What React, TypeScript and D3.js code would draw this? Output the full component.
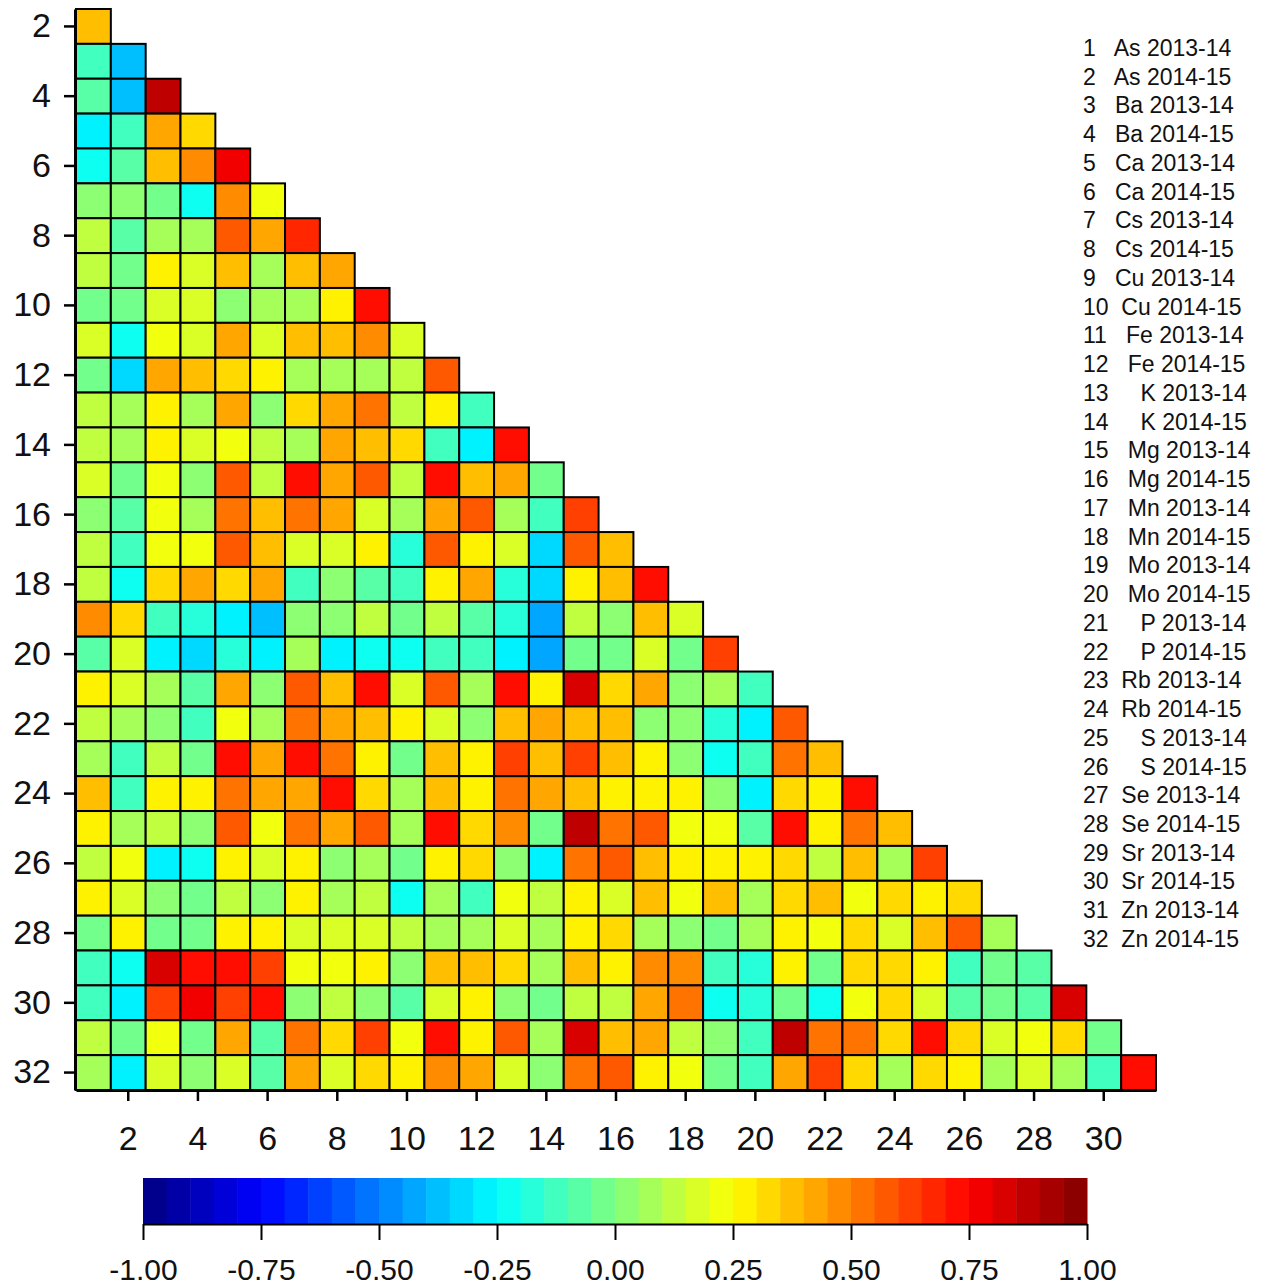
import { useEffect, useRef } from "react";
import * as d3 from "d3";

// variables 1..32 (only the lower triangle is drawn)
const legendLabels = [
  "1   As 2013-14",
  "2   As 2014-15",
  "3   Ba 2013-14",
  "4   Ba 2014-15",
  "5   Ca 2013-14",
  "6   Ca 2014-15",
  "7   Cs 2013-14",
  "8   Cs 2014-15",
  "9   Cu 2013-14",
  "10  Cu 2014-15",
  "11   Fe 2013-14",
  "12   Fe 2014-15",
  "13     K 2013-14",
  "14     K 2014-15",
  "15   Mg 2013-14",
  "16   Mg 2014-15",
  "17   Mn 2013-14",
  "18   Mn 2014-15",
  "19   Mo 2013-14",
  "20   Mo 2014-15",
  "21     P 2013-14",
  "22     P 2014-15",
  "23  Rb 2013-14",
  "24  Rb 2014-15",
  "25     S 2013-14",
  "26     S 2014-15",
  "27  Se 2013-14",
  "28  Se 2014-15",
  "29  Sr 2013-14",
  "30  Sr 2014-15",
  "31  Zn 2013-14",
  "32  Zn 2014-15",
];

const columnIds = d3.range(1, 32);
const rowIds = d3.range(2, 33);
const yTicks = [2, 4, 6, 8, 10, 12, 14, 16, 18, 20, 22, 24, 26, 28, 30, 32];
const xTicks = [2, 4, 6, 8, 10, 12, 14, 16, 18, 20, 22, 24, 26, 28, 30];
const colorTicks = [-1, -0.75, -0.5, -0.25, 0, 0.25, 0.5, 0.75, 1];

// correlations, row r (2..32) holds columns 1..r-1
const corrRows: number[][] = [
  [0.38],
  [-0.14, -0.36],
  [-0.1, -0.36, 0.88],
  [-0.27, -0.15, 0.43, 0.33],
  [-0.24, -0.1, 0.35, 0.48, 0.78],
  [0.02, 0.02, -0.05, -0.25, 0.48, 0.21],
  [0.12, -0.1, 0.05, 0.05, 0.55, 0.4, 0.66],
  [0.12, -0.05, 0.25, 0.15, 0.35, 0.05, 0.35, 0.43],
  [-0.05, -0.05, 0.15, 0.15, 0.02, 0.05, 0.05, 0.25, 0.7],
  [0.18, -0.25, 0.2, 0.15, 0.43, 0.15, 0.38, 0.35, 0.48, 0.15],
  [-0.05, -0.33, 0.4, 0.38, 0.33, 0.28, 0.08, 0.05, 0.08, 0.1, 0.58],
  [0.12, 0.05, 0.25, 0.08, 0.43, 0.02, 0.33, 0.43, 0.53, 0.1, 0.27, -0.15],
  [0.1, 0.05, 0.25, 0.15, 0.2, 0.1, 0.08, 0.4, 0.37, 0.33, -0.15, -0.28, 0.7],
  [0.15, -0.05, 0.2, 0.02, 0.58, 0.12, 0.72, 0.4, 0.58, 0.1, 0.73, 0.37, 0.43, -0.05],
  [0.0, -0.1, 0.2, 0.08, 0.5, 0.37, 0.5, 0.4, 0.15, 0.05, 0.43, 0.58, 0.05, -0.15, 0.63],
  [0.1, -0.15, 0.2, 0.2, 0.55, 0.35, 0.15, 0.15, 0.28, -0.2, 0.58, 0.28, 0.15, -0.33, 0.58, 0.38],
  [0.1, -0.25, 0.3, 0.43, 0.33, 0.43, -0.14, 0.0, -0.07, -0.15, 0.25, 0.4, -0.2, -0.33, 0.25, 0.38, 0.7],
  [0.45, 0.3, -0.14, -0.2, -0.3, -0.4, 0.0, 0.0, 0.12, -0.05, 0.12, -0.1, -0.2, -0.42, 0.1, 0.0, 0.35, 0.15],
  [-0.1, 0.15, -0.27, -0.33, -0.2, -0.3, 0.05, -0.27, -0.23, -0.25, -0.15, -0.14, -0.27, -0.44, -0.05, -0.05, 0.15, -0.05, 0.63],
  [0.25, 0.15, 0.08, -0.08, 0.43, 0.02, 0.55, 0.35, 0.7, 0.15, 0.58, 0.05, 0.7, 0.25, 0.83, 0.3, 0.43, 0.0, 0.08, -0.15],
  [0.12, 0.05, 0.02, -0.15, 0.2, 0.05, 0.5, 0.4, 0.35, 0.25, 0.15, 0.02, 0.38, 0.43, 0.38, 0.38, 0.02, 0.02, -0.2, -0.27, 0.58],
  [0.08, -0.14, 0.1, -0.05, 0.7, 0.4, 0.74, 0.53, 0.25, -0.05, 0.38, 0.25, 0.6, 0.35, 0.63, 0.38, 0.25, 0.02, -0.25, -0.15, 0.53, 0.38],
  [0.38, -0.14, 0.25, 0.25, 0.5, 0.42, 0.42, 0.7, 0.33, 0.05, 0.35, 0.25, 0.5, 0.43, 0.38, 0.25, 0.28, 0.25, 0.02, -0.3, 0.33, 0.25, 0.7],
  [0.25, 0.05, 0.12, 0.02, 0.58, 0.2, 0.53, 0.4, 0.58, 0.05, 0.7, 0.33, 0.45, -0.05, 0.88, 0.5, 0.58, 0.2, 0.2, -0.08, 0.74, 0.25, 0.53, 0.38],
  [0.1, 0.2, -0.27, -0.25, 0.25, 0.15, 0.25, 0.02, 0.08, -0.05, 0.25, 0.33, 0.02, -0.3, 0.53, 0.58, 0.38, 0.25, 0.25, 0.25, 0.3, 0.12, 0.38, 0.08, 0.63],
  [0.25, 0.15, 0.02, -0.05, 0.1, 0.02, 0.25, 0.08, 0.12, -0.25, 0.05, -0.15, 0.2, 0.1, 0.28, 0.15, 0.38, 0.2, 0.37, 0.05, 0.3, 0.38, 0.2, 0.3, 0.28, 0.3],
  [-0.05, 0.25, -0.05, -0.05, 0.28, 0.25, 0.15, 0.15, 0.15, 0.1, 0.05, 0.05, 0.15, 0.05, 0.28, 0.33, 0.08, 0.02, -0.05, 0.05, 0.25, 0.2, 0.3, 0.15, 0.38, 0.58, 0.05],
  [-0.14, -0.25, 0.8, 0.74, 0.74, 0.6, 0.2, 0.2, 0.25, 0.02, 0.38, 0.35, 0.3, 0.05, 0.38, 0.25, 0.48, 0.45, -0.14, -0.2, 0.25, -0.05, 0.3, 0.3, 0.28, -0.15, -0.05, -0.1],
  [-0.14, -0.27, 0.63, 0.78, 0.6, 0.7, 0.0, 0.1, 0.0, -0.1, 0.15, 0.25, 0.02, -0.05, 0.1, 0.12, 0.4, 0.5, -0.25, -0.2, -0.05, -0.25, 0.2, 0.3, 0.15, -0.1, -0.05, -0.1, 0.83],
  [0.1, -0.05, 0.2, -0.05, 0.43, -0.08, 0.53, 0.33, 0.63, 0.2, 0.74, 0.28, 0.58, 0.08, 0.83, 0.38, 0.43, 0.1, 0.0, -0.15, 0.88, 0.5, 0.53, 0.3, 0.74, 0.3, 0.15, 0.2, 0.3, -0.05],
  [0.05, -0.26, 0.15, 0.02, 0.15, -0.1, 0.4, 0.15, 0.3, 0.28, 0.48, 0.42, 0.15, 0.0, 0.5, 0.55, 0.25, 0.2, -0.05, -0.15, 0.43, 0.6, 0.3, 0.08, 0.3, 0.25, 0.08, 0.15, 0.08, -0.15, 0.7],
];

// matlab style jet colormap, t in [0, 1]
function jet(t: number): string {
  const c = (v: number) => Math.round(255 * Math.max(0, Math.min(1, v)));
  const r = c(1.5 - Math.abs(4 * t - 3));
  const g = c(1.5 - Math.abs(4 * t - 2));
  const b = c(1.5 - Math.abs(4 * t - 1));
  return `rgb(${r},${g},${b})`;
}

const WIDTH = 1274;
const HEIGHT = 1285;
const FONT = "'Liberation Sans', Arial, sans-serif";

export default function App() {
  const svgRef = useRef<SVGSVGElement>(null);

  useEffect(() => {
    if (!svgRef.current) return;
    const svg = d3.select(svgRef.current);
    svg.selectAll("*").remove();

    const nBins = 40;
    const color = d3
      .scaleQuantize<string>()
      .domain([-1, 1])
      .range(d3.range(nBins).map((i) => jet((i + 0.5) / nBins)));

    const x = d3.scaleBand<number>().domain(columnIds).range([76, 1156]);
    const y = d3.scaleBand<number>().domain(rowIds).range([9, 1090]);

    // cells
    const cells = corrRows.flatMap((vals, i) =>
      vals.map((v, j) => ({ row: rowIds[i], col: columnIds[j], v }))
    );
    svg
      .append("g")
      .selectAll("rect")
      .data(cells)
      .join("rect")
      .attr("x", (d) => x(d.col)!)
      .attr("y", (d) => y(d.row)!)
      .attr("width", x.bandwidth())
      .attr("height", y.bandwidth())
      .attr("fill", (d) => color(d.v))
      .attr("stroke", "#000")
      .attr("stroke-width", 2);

    // axes
    const yAxis = svg
      .append("g")
      .attr("transform", "translate(75,0)")
      .call(d3.axisLeft(y).tickValues(yTicks).tickSize(11).tickSizeOuter(0).tickPadding(13));
    const xAxis = svg
      .append("g")
      .attr("transform", "translate(0,1090)")
      .call(d3.axisBottom(x).tickValues(xTicks).tickSize(11).tickSizeOuter(0).tickPadding(25));
    [yAxis, xAxis].forEach((g) => {
      g.select(".domain").attr("stroke-width", 3);
      g.selectAll(".tick line").attr("stroke-width", 2.5);
      g.selectAll("text")
        .attr("font-size", 34)
        .attr("font-family", FONT)
        .attr("fill", "#111");
    });

    // legend
    svg
      .append("g")
      .selectAll("text")
      .data(legendLabels)
      .join("text")
      .attr("x", 1083)
      .attr("y", (_, i) => 56 + i * 28.74)
      .attr("font-size", 23)
      .attr("font-family", FONT)
      .attr("fill", "#111")
      .style("white-space", "pre")
      .text((d) => d);

    // colour bar
    const cb = d3.scaleLinear().domain([-1, 1]).range([143, 1087]);
    const step = 2 / nBins;
    svg
      .append("g")
      .selectAll("rect")
      .data(d3.range(nBins))
      .join("rect")
      .attr("x", (i) => cb(-1 + i * step))
      .attr("y", 1178)
      .attr("width", cb(-1 + step) - cb(-1) + 0.5)
      .attr("height", 46)
      .attr("fill", (i) => color(-1 + (i + 0.5) * step));

    const cbAxis = svg
      .append("g")
      .attr("transform", "translate(0,1224)")
      .call(
        d3
          .axisBottom(cb)
          .tickValues(colorTicks)
          .tickSize(16)
          .tickSizeOuter(0)
          .tickPadding(19)
          .tickFormat((d) => (+d).toFixed(2))
      );
    cbAxis.select(".domain").attr("stroke-width", 2);
    cbAxis.selectAll(".tick line").attr("stroke-width", 2);
    cbAxis
      .selectAll("text")
      .attr("font-size", 30)
      .attr("font-family", FONT)
      .attr("fill", "#111");
  }, []);

  return (
    <svg
      ref={svgRef}
      width={WIDTH}
      height={HEIGHT}
      style={{ position: "absolute", left: 0, top: 0, background: "#fff" }}
    ></svg>
  );
}
